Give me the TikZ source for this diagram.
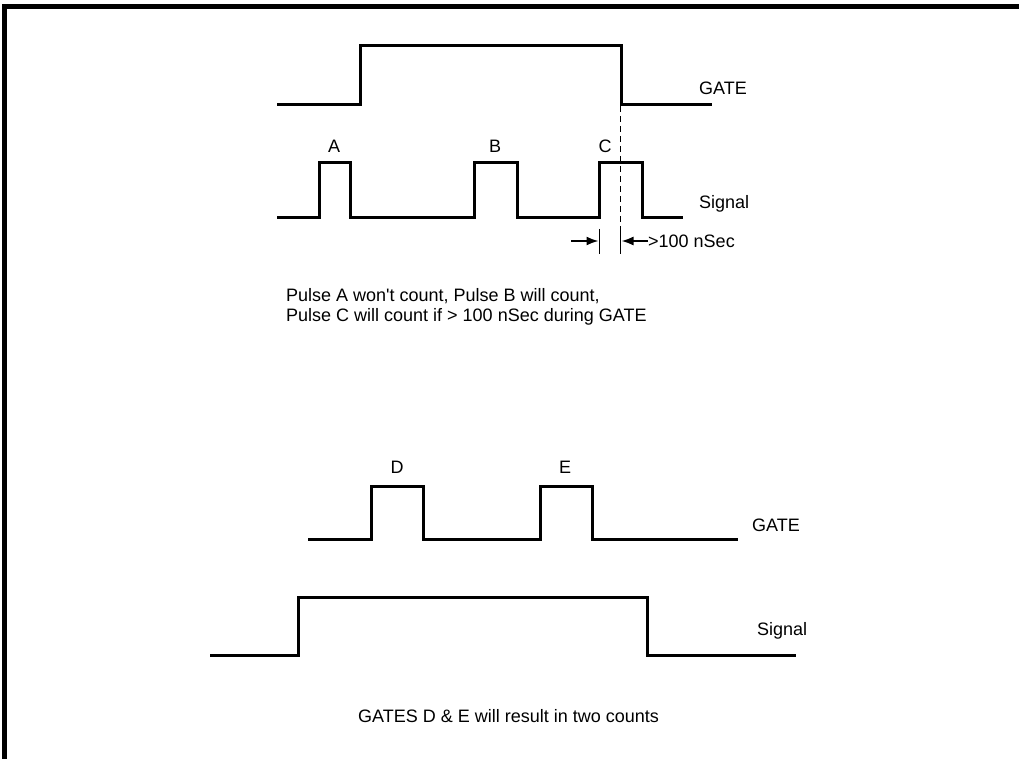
\documentclass[tikz,border=0pt]{standalone}
\usepackage{fontspec}
\setmainfont{Liberation Sans}
\usetikzlibrary{arrows.meta}
\begin{document}
\begin{tikzpicture}[x=1pt,y=-1pt,
  wave/.style={line width=3pt, line join=miter},
  lbl/.style={font=\fontsize{18}{21}\selectfont, inner sep=0pt},
  captext/.style={font=\fontsize{18}{21}\selectfont, inner sep=0pt},
  ticmark/.style={line width=1.8pt},
  dimarrow/.style={line width=1.8pt, -{Latex[length=12pt,width=9pt]}},
  dashline/.style={line width=1.8pt, dash pattern=on 6pt off 4pt}]
\useasboundingbox (0,0) rectangle (1019,759);
% frame
\draw[line width=4.5pt] (4.5,759) -- (4.5,6.5) -- (1019,6.5);

% ---------- upper diagram ----------
\draw[wave] (277,105) -- (360,105) -- (360,46) -- (621,46) -- (621,105) -- (712,105);
\node[lbl, anchor=west] (gate1) at (699,88) {GATE};

\draw[wave] (277,218) -- (319,218) -- (319,163) -- (350,163) -- (350,218)
  -- (474,218) -- (474,163) -- (517,163) -- (517,218)
  -- (599,218) -- (599,163) -- (642,163) -- (642,218) -- (683,218);
\node[lbl, anchor=west] (sig1) at (699,204) {Signal};

\node[lbl] (A) at (334,146) {A};
\node[lbl] (B) at (495,146) {B};
\node[lbl] (C) at (605,146) {C};

\coordinate (dtop) at (620.5,106);
\coordinate (dbot) at (620.5,229);
\draw[dashline] (dtop) -- (dbot);

\coordinate (t1a) at (599.5,229);
\coordinate (t1b) at (599.5,254);
\coordinate (t2a) at (620.5,229);
\coordinate (t2b) at (620.5,254);
\draw[ticmark] (t1a) -- (t1b);
\draw[ticmark] (t2a) -- (t2b);
\coordinate (a1s) at (571,241);
\coordinate (a1e) at (598.5,241);
\draw[dimarrow] (a1s) -- (a1e);
\node[lbl, anchor=west] (ns) at (648,241) {>100 nSec};
\coordinate (a2e) at (621.5,241);
\draw[dimarrow] (ns.west) -- (a2e);

\node[captext, anchor=west] (t1) at (286,296) {Pulse A won\textquotesingle t count, Pulse B will count,};
\node[captext, anchor=west] (t2) at (286,317) {Pulse C will count if > 100 nSec during GATE};

% ---------- lower diagram ----------
\draw[wave] (308,539) -- (371,539) -- (371,486) -- (423,486) -- (423,539)
  -- (540,539) -- (540,486) -- (592,486) -- (592,539) -- (738,539);
\node[lbl] (D) at (397,467) {D};
\node[lbl] (E) at (565,467) {E};
\node[lbl, anchor=west] (gate2) at (752,525) {GATE};

\draw[wave] (210,655) -- (298,655) -- (298,597) -- (647,597) -- (647,655) -- (796,655);
\node[lbl, anchor=west] (sig2) at (757,631) {Signal};

\node[captext, anchor=west] (t3) at (358,716) {GATES D \& E will result in two counts};
\end{tikzpicture}
\end{document}
